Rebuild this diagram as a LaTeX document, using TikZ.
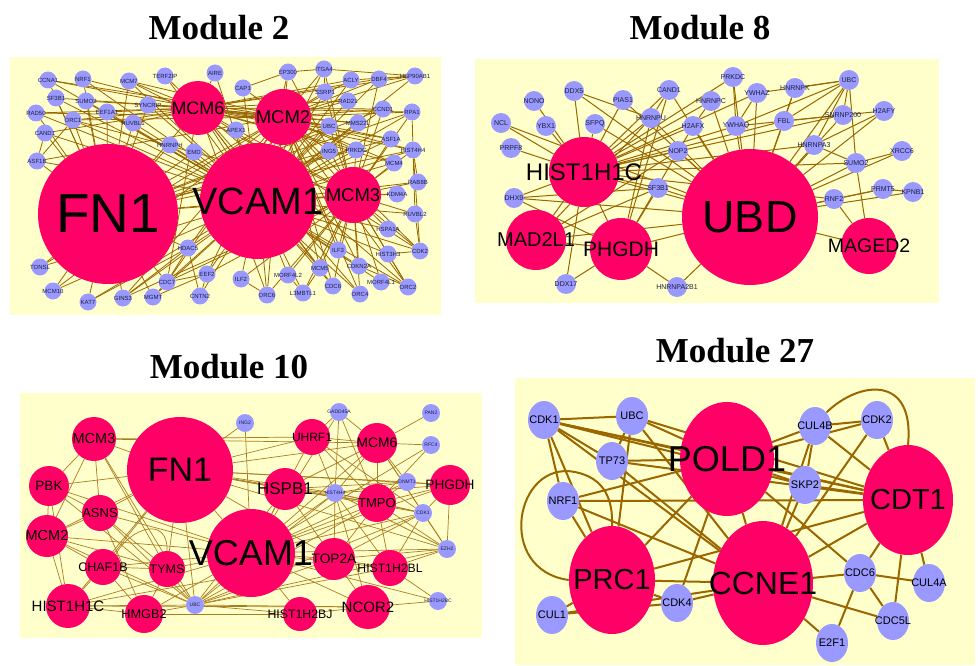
\documentclass[tikz,border=0pt]{standalone}
\usepackage{fontspec}
\setmainfont{Liberation Serif}
\setsansfont{Liberation Sans}
\usetikzlibrary{shapes.geometric}
\definecolor{panelc}{RGB}{255,255,204}
\definecolor{hubc}{RGB}{255,0,102}
\definecolor{smc}{RGB}{153,153,255}
\definecolor{edgec}{RGB}{153,102,0}
\definecolor{edgel}{RGB}{170,125,30}
\definecolor{labc}{RGB}{30,30,60}
\pgfdeclarelayer{panel}\pgfdeclarelayer{edges}
\pgfsetlayers{panel,edges,main}
\tikzset{
 hub/.style n args={3}{circle, fill=hubc, inner sep=0pt, minimum size=#1pt,
   label={[font=\sffamily\fontsize{#2}{#2}\selectfont, text=black, inner sep=0pt]center:#3}},
 ehub/.style n args={4}{ellipse, fill=hubc, inner sep=0pt, minimum width=#1pt, minimum height=#2pt,
   label={[font=\sffamily\fontsize{#3}{#3}\selectfont, text=black, inner sep=0pt]center:#4}},
 s2/.style={circle, fill=smc, inner sep=0pt, minimum size=17pt,
   label={[font=\sffamily\fontsize{6}{6}\selectfont, text=labc, inner sep=0pt]center:#1}},
 s8/.style={circle, fill=smc, inner sep=0pt, minimum size=20pt,
   label={[font=\sffamily\fontsize{7}{7}\selectfont, text=labc, inner sep=0pt]center:#1}},
 s10/.style={circle, fill=smc, inner sep=0pt, minimum size=18pt,
   label={[font=\sffamily\fontsize{5}{5}\selectfont, text=labc, inner sep=0pt]center:#1}},
 s27/.style={ellipse, fill=smc, inner sep=0pt, minimum width=32pt, minimum height=38pt,
   label={[font=\sffamily\fontsize{11}{11}\selectfont, text=black, inner sep=0pt]center:#1}},
 title/.style={font=\rmfamily\bfseries\fontsize{35}{35}\selectfont, inner sep=0pt},
 e2/.style={draw=edgec, line width=0.8pt},
 e8/.style={draw=edgec, line width=1pt},
 e10/.style={draw=edgel, line width=0.7pt},
 e27/.style={draw=edgec, line width=2pt},
}
\begin{document}
\begin{tikzpicture}[x=1pt,y=-1pt]
\useasboundingbox (0,0) rectangle (978,666);
\begin{pgfonlayer}{panel}
\fill[white] (0,0) rectangle (978,666);
\fill[panelc] (10,57) rectangle (441,315);
\fill[panelc] (475,59) rectangle (939,303);
\fill[panelc] (20,393) rectangle (482,638);
\fill[panelc] (515,378) rectangle (975,665);
\end{pgfonlayer}

\node[title] (t2) at (219,28) {Module 2};
\node[title] (t8) at (700,28) {Module 8};
\node[title] (t10) at (229,367) {Module 10};
\node[title] (t27) at (735,351) {Module 27};

% ---------------- Module 2 ----------------
\node[hub={140}{55}{FN1}] (aFN1) at (108,214) {};
\node[hub={116}{38}{VCAM1}] (aVCAM1) at (258,201) {};
\node[hub={54}{18}{MCM6}] (aMCM6) at (198,108) {};
\node[hub={56}{18.5}{MCM2}] (aMCM2) at (283,117) {};
\node[hub={56}{18.5}{MCM3}] (aMCM3) at (353,195) {};
\node[s2=CCNA1] (aCCNA1) at (48,80) {};
\node[s2=NRF1] (aNRF1) at (83,79) {};
\node[s2=MCM7] (aMCM7) at (129,81) {};
\node[s2=TERF2IP] (aTERF2IP) at (165,76) {};
\node[s2=AIRE] (aAIRE) at (215,73) {};
\node[s2=SF3B1] (aSF3B1) at (56,98) {};
\node[s2=SUMO2] (aSUMO2) at (86,101) {};
\node[s2=SYNCRIP] (aSYNCRIP) at (148,105) {};
\node[s2=RAD50] (aRAD50) at (36,113) {};
\node[s2=EEF1A1] (aEEF1A1) at (107,112) {};
\node[s2=ORC1] (aORC1) at (73,120) {};
\node[s2=RUVBL1] (aRUVBL1) at (133,123) {};
\node[s2=CAND1] (aCAND1) at (45,133) {};
\node[s2=HNRNPH] (aHNRNPH) at (170,145) {};
\node[s2=EMD] (aEMD) at (194,152) {};
\node[s2=ASF1B] (aASF1B) at (37,161) {};
\node[s2=APEX1] (aAPEX1) at (236,130) {};
\node[s2=CAP1] (aCAP1) at (243,88) {};
\node[s2=EP300] (aEP300) at (288,72) {};
\node[s2=ITGA4] (aITGA4) at (324,69) {};
\node[s2=SSRP1] (aSSRP1) at (325,92) {};
\node[s2=ACLY] (aACLY) at (351,80) {};
\node[s2=DBF4] (aDBF4) at (379,79) {};
\node[s2=HSP90AB1] (aHSP90AB1) at (415,76) {};
\node[s2=RAD21] (aRAD21) at (348,101) {};
\node[s2=CCND1] (aCCND1) at (383,109) {};
\node[s2=RPA1] (aRPA1) at (412,112) {};
\node[s2=UBC] (aUBC) at (329,126) {};
\node[s2=MMS22L] (aMMS22L) at (358,123) {};
\node[s2=ING5] (aING5) at (329,151) {};
\node[s2=PRKDC] (aPRKDC) at (356,150) {};
\node[s2=ASF1A] (aASF1A) at (391,139) {};
\node[s2=HIST4H4] (aHIST4H4) at (413,150) {};
\node[s2=MCM4] (aMCM4) at (394,163) {};
\node[s2=RAB8B] (aRAB8B) at (418,182) {};
\node[s2=KDM4A] (aKDM4A) at (397,194) {};
\node[s2=RUVBL2] (aRUVBL2) at (415,214) {};
\node[s2=HSPA1A] (aHSPA1A) at (388,229) {};
\node[s2=CDK2] (aCDK2) at (420,251) {};
\node[s2=ILF3] (aILF3) at (338,250) {};
\node[s2=HIST3H3] (aHIST3H3) at (388,254) {};
\node[s2=HDAC5] (aHDAC5) at (188,248) {};
\node[s2=TONSL] (aTONSL) at (40,267) {};
\node[s2=MCM10] (aMCM10) at (53,291) {};
\node[s2=KAT7] (aKAT7) at (88,302) {};
\node[s2=GINS3] (aGINS3) at (123,298) {};
\node[s2=MGMT] (aMGMT) at (153,297) {};
\node[s2=CDC7] (aCDC7) at (167,282) {};
\node[s2=EEF2] (aEEF2) at (207,274) {};
\node[s2=CNTN2] (aCNTN2) at (200,296) {};
\node[s2=ILF2] (aILF2) at (241,279) {};
\node[s2=MORF4L2] (aMORF4L2) at (288,275) {};
\node[s2=MCM5] (aMCM5) at (320,268) {};
\node[s2=CDKN2A] (aCDKN2A) at (359,266) {};
\node[s2=MORF4L1] (aMORF4L1) at (381,282) {};
\node[s2=ORC2] (aORC2) at (408,287) {};
\node[s2=ORC6] (aORC6) at (267,295) {};
\node[s2=L3MBTL1] (aL3MBTL1) at (303,293) {};
\node[s2=CDC6] (aCDC6) at (333,286) {};
\node[s2=ORC4] (aORC4) at (360,294) {};

\begin{pgfonlayer}{edges}
\foreach \t in {CCNA1,NRF1,MCM7,TERF2IP,AIRE,SF3B1,SUMO2,SYNCRIP,RAD50,EEF1A1,ORC1,RUVBL1,CAND1,HNRNPH,EMD,ASF1B,APEX1,CAP1,EP300,ITGA4,SSRP1,ACLY,DBF4,HSP90AB1,RAD21,CCND1,RPA1,UBC,MMS22L,ING5,PRKDC,ASF1A,HIST4H4,MCM4,RAB8B,KDM4A,RUVBL2,HSPA1A,CDK2,ILF3,HIST3H3,HDAC5,TONSL,MCM10,KAT7,GINS3,MGMT,CDC7,EEF2,CNTN2,ILF2,MORF4L2,MCM5,CDKN2A,MORF4L1,ORC2,ORC6,L3MBTL1,CDC6,ORC4,FN1,MCM6,MCM2,MCM3}
  {\draw[e2] (aVCAM1) -- (a\t);}
\foreach \t in {CCNA1,NRF1,MCM7,SF3B1,SUMO2,RAD50,EEF1A1,ORC1,RUVBL1,CAND1,ASF1B,TONSL,MCM10,KAT7,GINS3,MGMT,CDC7,HDAC5,SYNCRIP,HNRNPH,EMD,MCM6,MCM2,MCM3,UBC,PRKDC,ING5,HIST4H4,ASF1A,RPA1,CCND1}
  {\draw[e2] (aFN1) -- (a\t);}
\foreach \t in {CCNA1,NRF1,MCM7,TERF2IP,SF3B1,SUMO2,RAD50,EEF1A1,ORC1,RUVBL1,CAND1,SYNCRIP,MCM2,MCM3,MCM4,MCM5,ORC2,ORC4,ORC6,CDC6,CDC7,DBF4,RPA1,CDK2,UBC,ASF1A,HIST4H4,PRKDC,MMS22L,RAD21,CCND1,HSP90AB1,ACLY,AIRE}
  {\draw[e2] (aMCM6) -- (a\t);}
\foreach \t in {MCM7,SYNCRIP,EP300,ITGA4,CAP1,SSRP1,ACLY,DBF4,HSP90AB1,RAD21,CCND1,RPA1,UBC,MMS22L,ING5,PRKDC,ASF1A,HIST4H4,MCM4,MCM3,MCM5,ORC1,ORC2,ORC4,ORC6,CDC6,CDC7,CDK2,HDAC5,EEF2,ILF3,CDKN2A,ASF1B,CCNA1,TONSL,MCM10,GINS3,RAD50}
  {\draw[e2] (aMCM2) -- (a\t);}
\foreach \t in {RAB8B,KDM4A,RUVBL2,HSPA1A,CDK2,HIST3H3,ILF3,MCM5,CDKN2A,MORF4L1,ORC2,ORC4,CDC6,L3MBTL1,MORF4L2,ORC6,HIST4H4,MCM4,ASF1A,PRKDC,UBC,RPA1,ITGA4,EP300,SSRP1,CCND1,DBF4,MCM7,ORC1,CDC7,GINS3,EEF2,ILF2}
  {\draw[e2] (aMCM3) -- (a\t);}
\draw[e2] (aCAP1) -- (aEP300);
\draw[e2] (aEP300) -- (aITGA4);
\draw[e2] (aITGA4) -- (aSSRP1);
\draw[e2] (aACLY) -- (aHSP90AB1);
\draw[e2] (aDBF4) -- (aHSP90AB1);
\draw[e2] (aITGA4) -- (aHSP90AB1);
\draw[e2] (aRPA1) -- (aHIST4H4);
\draw[e2] (aHIST4H4) -- (aRAB8B);
\draw[e2] (aHIST4H4) -- (aRUVBL2);
\draw[e2] (aRUVBL2) -- (aCDK2);
\draw[e2] (aHIST4H4) -- (aCDK2);
\draw[e2] (aHIST3H3) -- (aCDK2);
\draw[e2] (aHIST3H3) -- (aORC2);
\draw[e2] (aCDKN2A) -- (aORC2);
\draw[e2] (aMCM5) -- (aL3MBTL1);
\draw[e2] (aMORF4L2) -- (aL3MBTL1);
\draw[e2] (aILF2) -- (aORC6);
\draw[e2] (aEEF2) -- (aCNTN2);
\draw[e2] (aCDC7) -- (aMGMT);
\draw[e2] (aCDC7) -- (aEEF2);
\draw[e2] (aGINS3) -- (aHDAC5);
\draw[e2] (aKAT7) -- (aHDAC5);
\draw[e2] (aCDC7) -- (aHDAC5);
\draw[e2] (aMGMT) -- (aEEF2);
\draw[e2] (aCNTN2) -- (aHDAC5);
\draw[e2] (aCAND1) -- (aASF1B);
\draw[e2] (aASF1B) -- (aORC1);
\end{pgfonlayer}

% ---------------- Module 8 ----------------
\node[hub={70}{24}{HIST1H1C}] (bHIST1H1C) at (584,172) {};
\node[hub={136}{45}{UBD}] (bUBD) at (750,217) {};
\node[hub={60}{20}{MAD2L1}] (bMAD2L1) at (536,240) {};
\node[hub={62}{21}{PHGDH}] (bPHGDH) at (621,249) {};
\node[hub={56}{19.5}{MAGED2}] (bMAGED2) at (869,246) {};
\node[s8=NONO] (bNONO) at (534,101) {};
\node[s8=DDX5] (bDDX5) at (574,91) {};
\node[s8=PIAS1] (bPIAS1) at (623,100) {};
\node[s8=CAND1] (bCAND1) at (669,90) {};
\node[s8=NCL] (bNCL) at (501,123) {};
\node[s8=YBX1] (bYBX1) at (546,126) {};
\node[s8=SFPQ] (bSFPQ) at (595,124) {};
\node[s8=HNRNPU] (bHNRNPU) at (651,118) {};
\node[s8=H2AFX] (bH2AFX) at (693,126) {};
\node[s8=HNRNPC] (bHNRNPC) at (711,101) {};
\node[s8=PRPF8] (bPRPF8) at (511,148) {};
\node[s8=NOP2] (bNOP2) at (678,151) {};
\node[s8=PRKDC] (bPRKDC) at (733,77) {};
\node[s8=YWHAZ] (bYWHAZ) at (757,93) {};
\node[s8=HNRNPK] (bHNRNPK) at (795,88) {};
\node[s8=UBC] (bUBC) at (849,80) {};
\node[s8=YWHAQ] (bYWHAQ) at (736,126) {};
\node[s8=FBL] (bFBL) at (784,121) {};
\node[s8=SNRNP200] (bSNRNP200) at (843,115) {};
\node[s8=H2AFY] (bH2AFY) at (884,111) {};
\node[s8=HNRNPA3] (bHNRNPA3) at (814,145) {};
\node[s8=XRCC6] (bXRCC6) at (902,151) {};
\node[s8=SUMO2] (bSUMO2) at (856,163) {};
\node[s8=DHX9] (bDHX9) at (514,198) {};
\node[s8=SF3B1] (bSF3B1) at (658,188) {};
\node[s8=RNF2] (bRNF2) at (834,199) {};
\node[s8=PRMT5] (bPRMT5) at (883,189) {};
\node[s8=KPNB1] (bKPNB1) at (913,192) {};
\node[s8=DDX17] (bDDX17) at (566,284) {};
\node[s8=HNRNPA2B1] (bHNRNPA2B1) at (677,287) {};

\begin{pgfonlayer}{edges}
\foreach \t in {NONO,DDX5,NCL,YBX1,SFPQ,PIAS1,CAND1,HNRNPU,H2AFX,PRPF8,NOP2,DHX9,SF3B1,YWHAQ,FBL,HNRNPC,PRKDC,UBD,SNRNP200,HNRNPA3,RNF2,SUMO2,PHGDH,MAD2L1,DDX17,YWHAZ}
  {\draw[e8] (bHIST1H1C) -- (b\t);}
\foreach \t in {HNRNPU,H2AFX,NOP2,SF3B1,YWHAQ,YWHAZ,FBL,HNRNPK,PRKDC,HNRNPC,CAND1,PIAS1,SFPQ,DDX5,UBC,SNRNP200,HNRNPA3,SUMO2,RNF2,PRMT5,KPNB1,XRCC6,H2AFY,MAGED2,PHGDH,MAD2L1,DHX9,HNRNPA2B1,NCL}
  {\draw[e8] (bUBD) -- (b\t);}
\foreach \t in {PHGDH,SF3B1,HNRNPU,NOP2}
  {\draw[e8] (bMAD2L1) -- (b\t);}
\foreach \t in {DDX17,HNRNPA2B1,SF3B1,HNRNPU,H2AFX,CAND1}
  {\draw[e8] (bPHGDH) -- (b\t);}
\foreach \t in {RNF2,SUMO2}
  {\draw[e8] (bMAGED2) -- (b\t);}
\foreach \t in {HNRNPK,FBL,YWHAQ,YWHAZ,SNRNP200,SUMO2,HNRNPA3}
  {\draw[e8] (bUBC) -- (b\t);}
\draw[e8] (bSUMO2) -- (bXRCC6);
\draw[e8] (bSUMO2) -- (bHNRNPA3);
\draw[e8] (bH2AFY) -- (bHNRNPA3);
\draw[e8] (bSNRNP200) -- (bFBL);
\draw[e8] (bSNRNP200) -- (bYWHAQ);
\draw[e8] (bSNRNP200) -- (bH2AFY);
\draw[e8] (bPRMT5) -- (bKPNB1);
\draw[e8] (bRNF2) -- (bPRMT5);
\draw[e8] (bDHX9) -- (bSF3B1);
\draw[e8] (bDHX9) -- (bPHGDH);
\draw[e8] (bPRKDC) -- (bYWHAQ);
\draw[e8] (bHNRNPK) -- (bFBL);
\draw[e8] (bYWHAZ) -- (bYWHAQ);
\draw[e8] (bDDX5) -- (bHNRNPU);
\draw[e8] (bCAND1) -- (bHNRNPU);
\draw[e8] (bH2AFX) -- (bHNRNPC);
\end{pgfonlayer}

% ---------------- Module 10 ----------------
\node[hub={106}{34}{FN1}] (cFN1) at (180,470) {};
\node[hub={88}{36}{VCAM1}] (cVCAM1) at (251,553) {};
\node[hub={44}{14.5}{MCM3}] (cMCM3) at (94,439) {};
\node[hub={40}{13.5}{PBK}] (cPBK) at (49,486) {};
\node[hub={36}{13}{ASNS}] (cASNS) at (100,513) {};
\node[hub={42}{14.5}{MCM2}] (cMCM2) at (47,536) {};
\node[hub={36}{12.5}{CHAF1B}] (cCHAF1B) at (103,567) {};
\node[hub={36}{12.5}{TYMS}] (cTYMS) at (167,569) {};
\node[hub={44}{15}{HIST1H1C}] (cHIST1H1C) at (68,606) {};
\node[hub={38}{12.7}{HMGB2}] (cHMGB2) at (144,614) {};
\node[hub={36}{12}{UHRF1}] (cUHRF1) at (312,437) {};
\node[hub={40}{13.8}{MCM6}] (cMCM6) at (377,443) {};
\node[hub={42}{17}{HSPB1}] (cHSPB1) at (285,489) {};
\node[hub={40}{13.6}{PHGDH}] (cPHGDH) at (450,485) {};
\node[hub={38}{13}{TMPO}] (cTMPO) at (377,503) {};
\node[hub={42}{13.7}{TOP2A}] (cTOP2A) at (334,559) {};
\node[hub={36}{12.2}{HIST1H2BL}] (cHIST1H2BL) at (390,568) {};
\node[hub={44}{15}{NCOR2}] (cNCOR2) at (368,607) {};
\node[hub={34}{12.3}{HIST1H2BJ}] (cHIST1H2BJ) at (300,614) {};
\node[s10=ING2] (cING2) at (245,423) {};
\node[s10=GADD45A] (cGADD45A) at (339,412) {};
\node[s10=PAN2] (cPAN2) at (431,413) {};
\node[s10=RFC4] (cRFC4) at (431,445) {};
\node[s10=HIST4H4] (cHIST4H4) at (335,493) {};
\node[s10=DNMT1] (cDNMT1) at (407,482) {};
\node[s10=CDK1] (cCDK1) at (423,513) {};
\node[s10=EZH2] (cEZH2) at (447,549) {};
\node[s10=HIST1H2BC] (cHIST1H2BC) at (438,601) {};
\node[s10=UBC] (cUBC) at (195,605) {};

\begin{pgfonlayer}{edges}
\foreach \t in {MCM3,PBK,ASNS,MCM2,TYMS,UBC,ING2,VCAM1,UHRF1,MCM6,HSPB1,HIST4H4,TMPO,DNMT1,CDK1,PHGDH,EZH2,CHAF1B,HIST1H1C,TOP2A}
  {\draw[e10] (cFN1) -- (c\t);}
\foreach \t in {UBC,MCM2,ASNS,PBK,HIST4H4,HSPB1,TMPO,CDK1,EZH2,DNMT1,TOP2A,HIST1H2BL,NCOR2,HIST1H2BJ,HIST1H1C,HMGB2,CHAF1B,TYMS,MCM6,UHRF1,PHGDH,ING2,HIST1H2BC,GADD45A,RFC4}
  {\draw[e10] (cVCAM1) -- (c\t);}
\foreach \t in {TYMS,CHAF1B,HMGB2,HIST1H1C,MCM2,ASNS,TOP2A,NCOR2,HIST1H2BJ,HIST1H2BL,HIST4H4,TMPO,HSPB1,CDK1,EZH2,PBK,MCM3}
  {\draw[e10] (cUBC) -- (c\t);}
\foreach \t in {PBK,MCM2,ASNS,TYMS,MCM6,UHRF1}
  {\draw[e10] (cMCM3) -- (c\t);}
\foreach \t in {MCM2,ASNS,HIST1H1C}
  {\draw[e10] (cPBK) -- (c\t);}
\foreach \t in {HIST1H1C,CHAF1B,ASNS,TYMS}
  {\draw[e10] (cMCM2) -- (c\t);}
\foreach \t in {TYMS,HMGB2}
  {\draw[e10] (cASNS) -- (c\t);}
\foreach \t in {HMGB2,TYMS,HIST1H1C}
  {\draw[e10] (cCHAF1B) -- (c\t);}
\foreach \t in {HMGB2,TOP2A,NCOR2}
  {\draw[e10] (cHIST1H1C) -- (c\t);}
\foreach \t in {TYMS,HIST1H2BJ}
  {\draw[e10] (cHMGB2) -- (c\t);}
\foreach \t in {GADD45A,MCM6,HIST4H4,TMPO,CDK1}
  {\draw[e10] (cUHRF1) -- (c\t);}
\foreach \t in {GADD45A,PAN2,RFC4,DNMT1,CDK1,EZH2,TMPO,HIST4H4,HSPB1}
  {\draw[e10] (cMCM6) -- (c\t);}
\foreach \t in {HIST4H4,TMPO}
  {\draw[e10] (cGADD45A) -- (c\t);}
\foreach \t in {HIST4H4,TMPO,TOP2A,DNMT1}
  {\draw[e10] (cHSPB1) -- (c\t);}
\foreach \t in {TMPO,DNMT1,CDK1,TOP2A,NCOR2,HIST1H2BL,EZH2}
  {\draw[e10] (cHIST4H4) -- (c\t);}
\foreach \t in {EZH2,TMPO,CDK1,HIST4H4,DNMT1}
  {\draw[e10] (cPHGDH) -- (c\t);}
\foreach \t in {TMPO,NCOR2,HIST1H2BL,EZH2,CDK1}
  {\draw[e10] (cTOP2A) -- (c\t);}
\foreach \t in {HIST1H2BC,TMPO,CDK1,EZH2}
  {\draw[e10] (cHIST1H2BL) -- (c\t);}
\foreach \t in {HIST1H2BC,HIST1H2BJ}
  {\draw[e10] (cNCOR2) -- (c\t);}
\foreach \t in {CDK1,EZH2,DNMT1,RFC4}
  {\draw[e10] (cTMPO) -- (c\t);}
\draw[e10] (cCDK1) -- (cEZH2);
\draw[e10] (cCHAF1B.north east) .. controls (130,528) and (168,515) .. (cTYMS.north);
\end{pgfonlayer}

% ---------------- Module 27 ----------------
\node[ehub={94}{114}{36}{POLD1}] (dPOLD1) at (727,459) {};
\node[ehub={86}{108}{29}{PRC1}] (dPRC1) at (612,580) {};
\node[ehub={90}{110}{29}{CDT1}] (dCDT1) at (908,500) {};
\node[ehub={100}{124}{32}{CCNE1}] (dCCNE1) at (763,583) {};
\node[s27=CDK1] (dCDK1) at (544,420) {};
\node[s27=UBC] (dUBC) at (632,416) {};
\node[s27=TP73] (dTP73) at (612,461) {};
\node[s27=NRF1] (dNRF1) at (563,501) {};
\node[s27=CUL1] (dCUL1) at (552,615) {};
\node[s27=CDK4] (dCDK4) at (677,603) {};
\node[s27=CUL4B] (dCUL4B) at (815,426) {};
\node[s27=CDK2] (dCDK2) at (877,420) {};
\node[s27=SKP2] (dSKP2) at (805,485) {};
\node[s27=CDC6] (dCDC6) at (860,573) {};
\node[s27=CUL4A] (dCUL4A) at (929,583) {};
\node[s27=CDC5L] (dCDC5L) at (893,621) {};
\node[s27=E2F1] (dE2F1) at (832,643) {};

\begin{pgfonlayer}{edges}
\foreach \t in {UBC,TP73,NRF1,PRC1,POLD1,CCNE1,CDT1,SKP2}
  {\draw[e27] (dCDK1) -- (d\t);}
\foreach \t in {POLD1,TP73,PRC1,CDT1,CCNE1}
  {\draw[e27] (dUBC) -- (d\t);}
\foreach \t in {POLD1,CCNE1,CDT1}
  {\draw[e27] (dTP73) -- (d\t);}
\foreach \t in {POLD1,CDT1,CCNE1,PRC1}
  {\draw[e27] (dNRF1) -- (d\t);}
\foreach \t in {POLD1,CCNE1,CDT1,CUL1,CDK4}
  {\draw[e27] (dPRC1) -- (d\t);}
\foreach \t in {CCNE1,CDK4}
  {\draw[e27] (dCUL1) -- (d\t);}
\foreach \t in {CCNE1,POLD1}
  {\draw[e27] (dCDK4) -- (d\t);}
\foreach \t in {CUL4B,CDK2,SKP2,CDT1,CCNE1,CDC6}
  {\draw[e27] (dPOLD1) -- (d\t);}
\foreach \t in {SKP2,CDT1,CDC6,CDC5L,E2F1,CUL4B,CDK2}
  {\draw[e27] (dCCNE1) -- (d\t);}
\foreach \t in {CDK2,CUL4B,SKP2,CDC6,CUL4A,CDC5L}
  {\draw[e27] (dCDT1) -- (d\t);}
\foreach \t in {CDC5L,CUL4A,E2F1}
  {\draw[e27] (dCDC6) -- (d\t);}
\draw[e27] (dCUL4B) -- (dCDK2);
\draw[e27] (dCUL4B) -- (dSKP2);
\draw[e27] (dPRC1.west) .. controls (495,570) and (515,460) .. (575,472) .. controls (605,478) and (613,500) .. (dPRC1.north);
\draw[e27] (dCUL4B.north east) .. controls (860,380) and (915,375) .. (dCDT1.north);
\end{pgfonlayer}
\end{tikzpicture}
\end{document}
